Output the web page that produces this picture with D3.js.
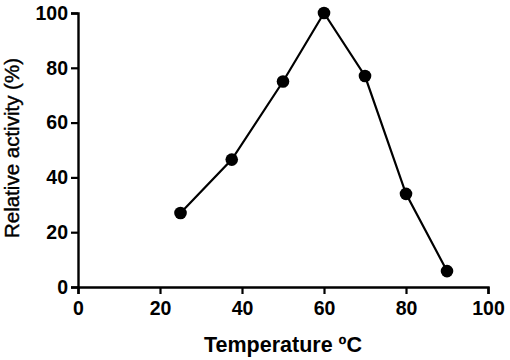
<!DOCTYPE html>
<html>
<head>
<meta charset="utf-8">
<script src="https://cdn.jsdelivr.net/npm/d3@7"></script>
<style>
  body { margin: 0; background: #fff; }
  svg text { font-family: "Liberation Sans", Arial, sans-serif; font-weight: bold; }
</style>
</head>
<body>
<div id="main"></div>
<script>
var temperature = [25, 37.5, 50, 60, 70, 80, 90];
var activity = [27, 46.5, 75, 100, 77, 34, 5.8];
var xTicks = [0, 20, 40, 60, 80, 100];
var yTicks = [0, 20, 40, 60, 80, 100];

var w = 510, h = 360;
var svg = d3.select("#main").append("svg")
    .attr("width", w).attr("height", h);

var x = d3.scaleLinear().domain([0, 100]).range([78, 488]);
var y = d3.scaleLinear().domain([0, 100]).range([287, 13]);

// x axis
var gx = svg.append("g")
    .attr("transform", "translate(0," + y(0) + ")")
    .call(d3.axisBottom(x).tickValues(xTicks).tickSize(7).tickPadding(7).tickFormat(d3.format("d")));
// y axis
var gy = svg.append("g")
    .attr("transform", "translate(" + x(0) + ",0)")
    .call(d3.axisLeft(y).tickValues(yTicks).tickSize(7).tickPadding(3).tickFormat(d3.format("d")));

[gx, gy].forEach(function(g){
    g.select(".domain").attr("stroke", "#000").attr("stroke-width", 2.4);
    g.selectAll(".tick line").attr("stroke", "#000").attr("stroke-width", 2.2);
    g.selectAll(".tick text").attr("fill", "#000").style("font-size", "19.5px");
});

// axis labels
svg.append("text")
    .attr("x", 283).attr("y", 352)
    .attr("text-anchor", "middle")
    .style("font-size", "21.5px")
    .text("Temperature \u00baC");
svg.append("text")
    .attr("transform", "translate(19," + 148 + ") rotate(-90)")
    .attr("text-anchor", "middle")
    .style("font-size", "20.5px")
    .style("font-weight", "normal")
    .style("stroke", "#000").style("stroke-width", 0.4)
    .text("Relative activity (%)");

var data = temperature.map(function(t, i){ return {t: t, a: activity[i]}; });

svg.append("path")
    .datum(data)
    .attr("fill", "none")
    .attr("stroke", "#000")
    .attr("stroke-width", 2.2)
    .attr("d", d3.line().x(function(d){ return x(d.t); }).y(function(d){ return y(d.a); }));

svg.selectAll("circle")
    .data(data)
    .enter()
    .append("circle")
    .attr("cx", function(d){ return x(d.t); })
    .attr("cy", function(d){ return y(d.a); })
    .attr("r", 6.3)
    .attr("fill", "#000");
</script>
</body>
</html>
